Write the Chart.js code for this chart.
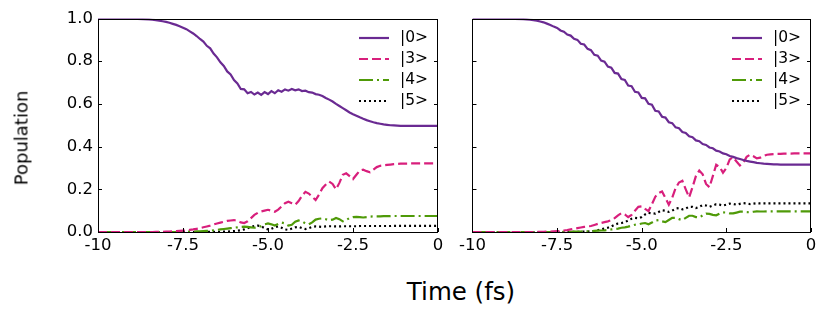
<!DOCTYPE html>
<html><head><meta charset="utf-8">
<script src="https://cdn.jsdelivr.net/npm/chart.js@4/dist/chart.umd.min.js"></script>
<style>
html,body{margin:0;padding:0;background:#fff;}
#wrap{position:relative;width:831px;height:314px;background:#fff;overflow:hidden;font-family:"DejaVu Sans",sans-serif;}
.pane{position:absolute;top:0;height:262px;}
#ylab{position:absolute;left:21px;top:138px;transform:translate(-50%,-50%) rotate(-90deg);font-size:18px;white-space:nowrap;color:#000;}
#xlab{position:absolute;left:461px;top:291px;transform:translate(-50%,-50%);font-size:24.5px;white-space:nowrap;color:#000;}
</style></head>
<body>
<div id="wrap">
  <div class="pane" style="left:0;width:455px;"><canvas id="c1"></canvas></div>
  <div class="pane" style="left:455px;width:376px;"><canvas id="c2"></canvas></div>
  <div id="ylab">Population</div>
  <div id="xlab">Time (fs)</div>
</div>
<script>
// ---- data ----
const time = [-10,-9.5,-9,
 -8.5,-8.4,-8.3,-8.2,-8.1,-8.0,-7.9,-7.8,-7.7,-7.6,
 -7.5,-7.4,-7.3,-7.2,-7.1,-7.0,-6.9,-6.8,-6.7,-6.6,
 -6.5,-6.4,-6.3,-6.2,-6.1,-6.0,-5.9,-5.8,-5.7,-5.6,
 -5.5,-5.4,-5.3,-5.2,-5.1,-5.0,-4.9,-4.8,-4.7,-4.6,
 -4.5,-4.4,-4.3,-4.2,-4.1,-4.0,-3.9,-3.8,-3.7,-3.6,
 -3.5,-3.4,-3.3,-3.2,-3.1,-3.0,-2.9,-2.8,-2.7,-2.6,
 -2.5,-2.4,-2.3,-2.2,-2.1,-2.0,-1.9,-1.8,-1.7,-1.6,
 -1.5,-1.4,-1.3,-1.2,-1.1,-1.0,-0.9,-0.8,-0.7,-0.6,
 -0.5,-0.4,-0.3,-0.2,-0.1,0];

const stateLabels = ['|0>','|3>','|4>','|5>'];
const xTickLabels = ['-10','-7.5','-5.0','-2.5','0'];
const yTickLabels = ['0.0','0.2','0.4','0.6','0.8','1.0'];

// left panel
const left0 = [1.000,1.000,0.999,
 .996,.994,.992,.990,.987,.984,.980,.975,.970,.964,
 .957,.950,.940,.930,.918,.904,.892,.872,.860,.836,
 .818,.795,.778,.752,.738,.712,.696,.670,.668,.650,
 .656,.644,.653,.642,.655,.646,.660,.650,.664,.657,
 .668,.662,.670,.664,.668,.660,.662,.655,.653,.646,
 .643,.637,.628,.620,.611,.600,.590,.580,.570,.560,
 .552,.545,.537,.530,.524,.519,.514,.510,.507,.504,
 .502,.500,.499,.498,.497,.497,.497,.497,.497,.497,
 .497,.497,.497,.497,.497,.497];
const left3 = [0,0,0,
 0,0,.001,.001,.001,.002,.002,.003,.004,.005,
 .006,.008,.010,.012,.015,.018,.022,.026,.030,.035,
 .040,.044,.048,.052,.054,.056,.052,.045,.042,.050,
 .065,.080,.090,.096,.100,.104,.100,.095,.105,.120,
 .135,.142,.135,.128,.145,.170,.188,.180,.165,.150,
 .175,.205,.222,.236,.225,.200,.230,.268,.275,.262,
 .248,.268,.288,.292,.285,.280,.292,.304,.310,.312,
 .314,.316,.318,.319,.320,.320,.320,.321,.321,.321,
 .321,.321,.321,.321,.321,.321];
const left4 = [0,0,0,
 0,0,0,0,0,0,0,0,0,.001,
 .001,.001,.002,.002,.003,.003,.004,.005,.006,.008,
 .010,.012,.014,.016,.018,.020,.022,.024,.025,.024,
 .022,.020,.022,.028,.036,.040,.036,.030,.038,.044,
 .040,.030,.034,.048,.054,.050,.040,.036,.045,.058,
 .062,.064,.060,.055,.058,.066,.060,.050,.056,.066,
 .070,.071,.070,.068,.070,.072,.073,.073,.073,.074,
 .074,.074,.075,.075,.075,.075,.075,.075,.075,.075,
 .075,.075,.075,.075,.075,.075];
const left5 = [0,0,0,
 0,0,0,0,0,0,0,0,0,0,
 0,0,0,0,0,0,0,.001,.001,.001,
 .001,.001,.002,.002,.003,.004,.006,.008,.012,.018,
 .024,.028,.030,.026,.018,.012,.015,.022,.026,.020,
 .012,.010,.016,.022,.024,.018,.014,.018,.024,.026,
 .025,.024,.026,.027,.027,.026,.026,.027,.027,.027,
 .027,.027,.028,.028,.028,.028,.028,.028,.028,.028,
 .028,.028,.029,.029,.029,.029,.029,.029,.029,.029,
 .029,.029,.029,.029,.029,.029];

// right panel
const right0 = [1.000,1.000,.999,
 .997,.996,.994,.992,.990,.986,.982,.976,.970,.962,
 .956,.944,.938,.925,.920,.905,.900,.882,.878,.858,
 .852,.830,.826,.803,.798,.775,.770,.745,.742,.716,
 .712,.686,.683,.657,.654,.628,.626,.600,.596,.568,
 .565,.540,.536,.514,.510,.490,.486,.468,.464,.448,
 .444,.429,.425,.412,.408,.396,.392,.381,.377,.368,
 .364,.356,.352,.346,.342,.337,.333,.330,.327,.324,
 .322,.320,.319,.318,.317,.317,.316,.316,.316,.316,
 .316,.316,.316,.316,.316,.316];
const right3 = [0,0,0,
 0,0,0,0,.001,.001,.001,.002,.002,.003,
 .004,.005,.007,.009,.012,.015,.018,.021,.024,.026,
 .028,.033,.038,.042,.046,.050,.055,.065,.078,.088,
 .082,.070,.080,.100,.118,.120,.108,.098,.130,.165,
 .182,.190,.160,.128,.160,.205,.232,.240,.200,.162,
 .210,.262,.288,.270,.225,.210,.262,.315,.305,.278,
 .300,.340,.350,.330,.312,.325,.352,.362,.355,.345,
 .348,.356,.362,.364,.365,.366,.366,.367,.367,.367,
 .368,.368,.368,.368,.368,.368];
const right4 = [0,0,0,
 0,0,0,0,0,0,0,0,0,0,
 0,0,.001,.001,.001,.002,.002,.002,.003,.003,
 .004,.005,.006,.007,.008,.010,.012,.014,.016,.020,
 .022,.025,.030,.034,.036,.040,.042,.036,.044,.054,
 .056,.050,.046,.056,.066,.066,.060,.056,.066,.076,
 .076,.070,.068,.078,.086,.085,.080,.078,.086,.092,
 .091,.087,.087,.091,.095,.095,.093,.092,.095,.097,
 .096,.096,.097,.097,.097,.097,.097,.097,.097,.097,
 .097,.097,.097,.097,.097,.097];
const right5 = [0,0,0,
 0,0,0,0,0,0,0,0,0,0,
 0,0,0,0,0,.001,.001,.001,.002,.002,
 .003,.005,.008,.012,.016,.020,.026,.034,.040,.042,
 .046,.054,.062,.066,.064,.070,.082,.090,.088,.086,
 .094,.102,.100,.094,.100,.110,.112,.106,.110,.118,
 .118,.112,.118,.126,.124,.118,.124,.130,.128,.124,
 .128,.133,.131,.128,.132,.135,.134,.131,.133,.135,
 .134,.134,.134,.134,.134,.134,.134,.134,.134,.134,
 .134,.134,.134,.134,.134,.134];

// ---- styles ----
const colors = ['#6a2a92','#d81f7c','#4f9a08','#000000'];
const dashes = [[], [9,4], [14,4,2,4], [2,3]];
const FONT = '"DejaVu Sans", sans-serif';

function makeDatasets(series){
  return series.map((s,i)=>({
    label: stateLabels[i],
    data: time.map((t,k)=>({x:t, y:s[k]})),
    borderColor: colors[i],
    borderWidth: 2.2,
    borderDash: dashes[i],
    pointRadius: 0,
    tension: 0,
    fill: false
  }));
}

const frameLegend = {
  id: 'frameLegend',
  afterDraw(chart){
    const {ctx, chartArea:a, scales:{x,y}} = chart;
    ctx.save();
    ctx.strokeStyle = '#000';
    ctx.lineWidth = 1;
    ctx.setLineDash([]);
    ctx.beginPath();
    x.ticks.forEach(t=>{
      const px = Math.round(x.getPixelForValue(t.value)) + 0.5;
      ctx.moveTo(px, a.bottom); ctx.lineTo(px, a.bottom - 4);
    });
    y.ticks.forEach(t=>{
      const py = Math.round(y.getPixelForValue(t.value)) + 0.5;
      ctx.moveTo(a.left, py); ctx.lineTo(a.left + 4, py);
      ctx.moveTo(a.right, py); ctx.lineTo(a.right - 4, py);
    });
    ctx.stroke();
    ctx.strokeRect(Math.round(a.left)+0.5, Math.round(a.top)+0.5, Math.round(a.right-a.left)-1, Math.round(a.bottom-a.top)-1);
    // legend
    ctx.font = '15.5px ' + FONT;
    ctx.textBaseline = 'middle';
    ctx.textAlign = 'left';
    stateLabels.forEach((lab,i)=>{
      const yy = a.top + 19.5 + i*21;
      ctx.strokeStyle = colors[i];
      ctx.lineWidth = 2.2;
      ctx.setLineDash(dashes[i]);
      ctx.beginPath();
      ctx.moveTo(a.right - 79, yy); ctx.lineTo(a.right - 49, yy);
      ctx.stroke();
      ctx.setLineDash([]);
      ctx.fillStyle = '#000';
      ctx.fillText(lab, a.right - 38, yy);
    });
    ctx.restore();
  }
};

function makeChart(id, series, showY, pad){
  return new Chart(document.getElementById(id), {
    type: 'line',
    data: { datasets: makeDatasets(series) },
    plugins: [frameLegend],
    options: {
      responsive: true,
      maintainAspectRatio: false,
      animation: false,
      layout: { padding: pad },
      plugins: { legend: {display:false}, tooltip: {enabled:false} },
      scales: {
        x: {
          type: 'linear', min: -10, max: 0,
          grid: { display:false, drawTicks:false },
          border: { display:false },
          ticks: {
            stepSize: 2.5, autoSkip:false, maxRotation:0, padding: 4,
            color:'#000', font:{family:FONT, size:16.5},
            callback: (v)=>{ const i = Math.round((v + 10)/2.5); return xTickLabels[i]; }
          },
          afterFit: (s)=>{ s.height = 30; }
        },
        y: {
          display: showY ? true : false,
          min: 0, max: 1,
          grid: { display:false, drawTicks:false },
          border: { display:false },
          ticks: {
            stepSize: 0.2, padding: 5, color:'#000', font:{family:FONT, size:16.5},
            callback: (v)=>{ const i = Math.round(v/0.2); return yTickLabels[i]; }
          },
          afterFit: (s)=>{ s.width = showY ? 98 : 0; }
        }
      }
    }
  });
}

makeChart('c1', [left0,left3,left4,left5], true, {left:0, right:17, top:18.5, bottom:0});
makeChart('c2', [right0,right3,right4,right5], false, {left:16, right:20, top:18.5, bottom:0});
</script>
</body></html>
